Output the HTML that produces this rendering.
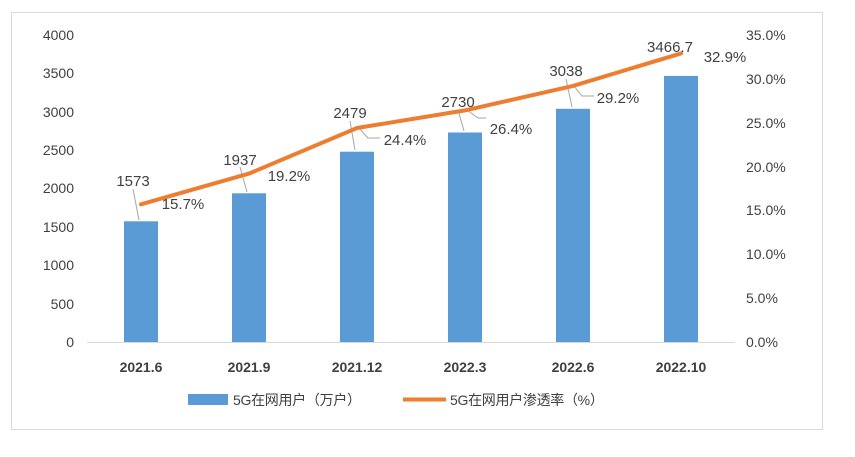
<!DOCTYPE html>
<html><head><meta charset="utf-8"><style>
html,body{margin:0;padding:0;background:#fff;}
svg text{font-family:"Liberation Sans","Noto Sans CJK SC",sans-serif;fill:#404040;}
</style></head><body>
<svg width="855" height="452" viewBox="0 0 855 452" xmlns="http://www.w3.org/2000/svg">
<rect x="11.5" y="12.5" width="811" height="417" fill="#fff" stroke="#d9d9d9"/>
<line x1="87" y1="342.5" x2="735" y2="342.5" stroke="#d9d9d9" stroke-width="1"/>
<g font-size="14" text-anchor="end">
<text x="74" y="347">0</text><text x="74" y="309">500</text><text x="74" y="270">1000</text><text x="74" y="232">1500</text><text x="74" y="193">2000</text><text x="74" y="155">2500</text><text x="74" y="117">3000</text><text x="74" y="78">3500</text><text x="74" y="40">4000</text>
</g>
<g font-size="14" text-anchor="start">
<text x="746" y="347">0.0%</text><text x="746" y="303">5.0%</text><text x="746" y="259">10.0%</text><text x="746" y="215">15.0%</text><text x="746" y="172">20.0%</text><text x="746" y="128">25.0%</text><text x="746" y="84">30.0%</text><text x="746" y="40">35.0%</text>
</g>
<g fill="#5b9bd5">
<rect x="124" y="221.3" width="34" height="120.7"/>
<rect x="232" y="193.3" width="34" height="148.7"/>
<rect x="340" y="151.7" width="34" height="190.3"/>
<rect x="448" y="132.5" width="34" height="209.5"/>
<rect x="556" y="108.8" width="34" height="233.2"/>
<rect x="664" y="75.9" width="34" height="266.1"/>
</g>
<g stroke="#a6a6a6" stroke-width="1" fill="none">
<line x1="133" y1="189" x2="139" y2="220"/>
<line x1="240" y1="167" x2="247" y2="192"/>
<line x1="350" y1="121" x2="355" y2="150"/>
<line x1="458" y1="110" x2="464" y2="131"/>
<line x1="566" y1="79" x2="572" y2="107"/>
<polyline points="359,128 368,138 380,138"/>
<polyline points="574,86 582,96 594,96"/>
<polyline points="467,110 478,118 486,118"/>
</g>
<polyline points="141,204.3 249,173.6 357,128 465,110.4 573,85.9 681,53.4" fill="none" stroke="#ed7d31" stroke-width="4" stroke-linejoin="round" stroke-linecap="round"/>
<g font-size="15" text-anchor="middle">
<text x="133" y="186">1573</text><text x="240" y="165">1937</text><text x="350" y="118">2479</text><text x="458" y="107">2730</text><text x="566" y="76">3038</text><text x="670" y="52">3466.7</text>
<text x="183" y="209">15.7%</text><text x="289" y="181">19.2%</text><text x="405" y="145">24.4%</text><text x="511" y="134">26.4%</text><text x="618" y="103">29.2%</text><text x="725" y="62">32.9%</text>
</g>
<g font-size="14" font-weight="bold" text-anchor="middle" fill="#404040">
<text x="141" y="372">2021.6</text><text x="249" y="372">2021.9</text><text x="357" y="372">2021.12</text><text x="465" y="372">2022.3</text><text x="573" y="372">2022.6</text><text x="681" y="372">2022.10</text>
</g>
<rect x="188" y="394" width="40" height="11" fill="#5b9bd5"/>
<text x="233" y="405" font-size="14" letter-spacing="-0.3">5G在网用户（万户）</text>
<line x1="403" y1="399.5" x2="446" y2="399.5" stroke="#ed7d31" stroke-width="4"/>
<text x="450" y="405" font-size="14" letter-spacing="-0.3">5G在网用户渗透率（%）</text>
</svg>
</body></html>
